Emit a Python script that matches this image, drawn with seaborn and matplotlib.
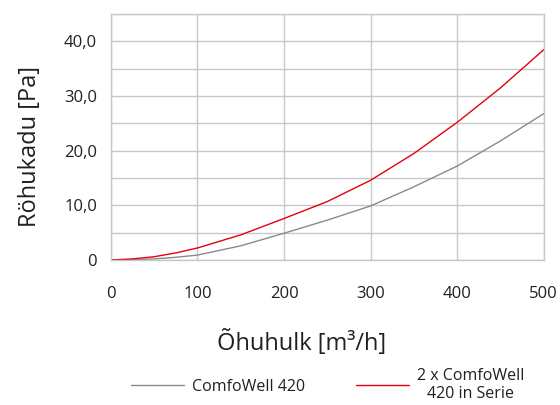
import numpy as np
import pandas as pd
import matplotlib
matplotlib.use('Agg')
import matplotlib.pyplot as plt
import seaborn as sns

# data
flow = [0, 25, 50, 75, 100, 150, 200, 250, 300, 350, 400, 450, 500]
single = [0.0, 0.05, 0.2, 0.5, 0.9, 2.6, 4.9, 7.3, 9.9, 13.4, 17.2, 21.8, 26.8]
serial = [0.0, 0.2, 0.6, 1.3, 2.2, 4.6, 7.6, 10.7, 14.6, 19.5, 25.2, 31.5, 38.5]
series_names = ['ComfoWell 420', '2 x ComfoWell\n420 in Serie']
y_ticks = [0, 10, 20, 30, 40]
y_labels = ['0', '10,0', '20,0', '30,0', '40,0']
x_ticks = [0, 100, 200, 300, 400, 500]

df = pd.DataFrame({
    'flow': flow * 2,
    'pa': single + serial,
    'serie': [series_names[0]] * len(flow) + [series_names[1]] * len(flow),
})

sns.set_theme(style='white')
plt.rcParams['font.family'] = ['Open Sans', 'DejaVu Sans']

fig = plt.figure(figsize=(5.6, 4.05), dpi=100)
ax = fig.add_axes([0.198, 0.358, 0.773, 0.607])

palette = {series_names[0]: '#8a8a8a', series_names[1]: '#e3000f'}
sns.lineplot(data=df, x='flow', y='pa', hue='serie', palette=palette,
             linewidth=1.0, ax=ax, legend=False)

ax.set_xlim(0, 500)
ax.set_ylim(0, 45)
ax.set_xticks(x_ticks)
ax.set_yticks(y_ticks)
ax.set_yticklabels(y_labels)
ax.set_yticks([5, 15, 25, 35, 45], minor=True)
ax.grid(True, which='both', color='#c8c8c8', linewidth=1.0)
ax.set_axisbelow(True)
for s in ax.spines.values():
    s.set_color('#c8c8c8')
    s.set_linewidth(1.0)

ax.tick_params(axis='both', which='both', length=0, labelsize=12, colors='#231f20')
ax.tick_params(axis='y', pad=10)
ax.tick_params(axis='x', pad=19)

ax.set_xlabel('Õhuhulk [m³/h]', fontsize=17, color='#231f20', labelpad=20)
ax.set_ylabel('Röhukadu [Pa]', fontsize=17, color='#231f20', labelpad=16)
# labels sit a bit off-centre in the original
ax.xaxis.label.set_x(0.441)
ax.yaxis.label.set_y(0.46)

# legend below the chart
handles = [plt.Line2D([], [], color=palette[n], linewidth=1.0) for n in series_names]
leg = fig.legend(handles, series_names, loc='center', bbox_to_anchor=(0.585, 0.05),
                 ncol=2, frameon=False, fontsize=11.5, handlelength=3.3,
                 columnspacing=3.2, handletextpad=0.5)
for t in leg.get_texts():
    t.set_multialignment('center')
    t.set_color('#231f20')

fig.savefig('out.png', dpi=100)
